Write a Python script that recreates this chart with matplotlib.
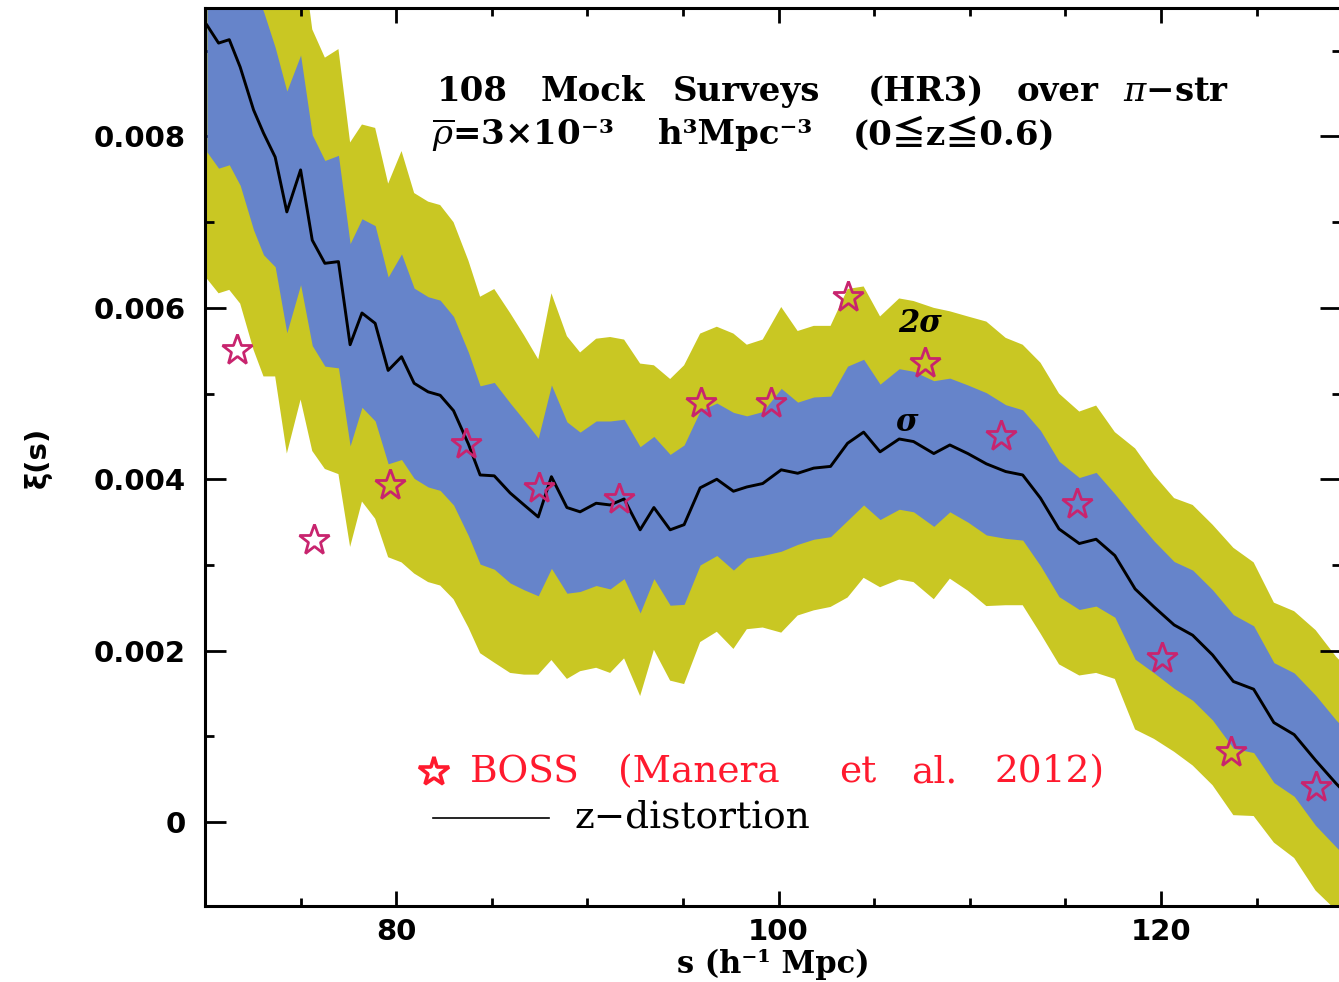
import numpy as np
import matplotlib
matplotlib.use("Agg")
import matplotlib.pyplot as plt
from matplotlib.ticker import MultipleLocator, FuncFormatter

plt.rcParams['mathtext.fontset'] = 'dejavuserif'

# === Mock surveys: mean xi(s) and its scatter (units of 1e-3) ===
s_mock = [70.10, 70.71, 71.27, 71.84, 72.54, 73.06, 73.67, 74.28, 75.00, 75.61,
          76.27, 76.98, 77.59, 78.21, 78.90, 79.58, 80.28, 80.94, 81.67, 82.30,
          83.00, 83.78, 84.39, 85.13, 85.96, 86.69, 87.43, 88.12, 88.93, 89.62,
          90.46, 91.19, 91.92, 92.76, 93.48, 94.33, 95.06, 95.90, 96.77, 97.64,
          98.34, 99.17, 100.14, 101.00, 101.84, 102.72, 103.61, 104.45, 105.31, 106.31,
          107.06, 108.12, 108.96, 109.90, 110.87, 111.88, 112.77, 113.70, 114.67, 115.73,
          116.61, 117.59, 118.65, 119.64, 120.69, 121.66, 122.70, 123.79, 124.85, 125.91,
          126.97, 128.09, 129.16, 130.25]
xi_mock = [9.30, 9.09, 9.13, 8.81, 8.31, 8.04, 7.76, 7.12, 7.61, 6.79,
           6.52, 6.54, 5.57, 5.94, 5.82, 5.27, 5.43, 5.12, 5.02, 4.98,
           4.80, 4.41, 4.05, 4.04, 3.84, 3.70, 3.56, 4.03, 3.67, 3.62,
           3.72, 3.70, 3.77, 3.41, 3.67, 3.41, 3.47, 3.90, 4.00, 3.86,
           3.91, 3.95, 4.11, 4.07, 4.13, 4.15, 4.42, 4.55, 4.32, 4.47,
           4.44, 4.30, 4.40, 4.30, 4.18, 4.09, 4.05, 3.78, 3.42, 3.25,
           3.30, 3.11, 2.72, 2.51, 2.30, 2.18, 1.95, 1.64, 1.55, 1.16,
           1.02, 0.72, 0.45, 0.20]
sig_mock = [1.48, 1.46, 1.46, 1.38, 1.40, 1.42, 1.28, 1.41, 1.34, 1.23,
            1.20, 1.24, 1.18, 1.10, 1.14, 1.09, 1.20, 1.11, 1.11, 1.11,
            1.10, 1.07, 1.04, 1.09, 1.05, 0.99, 0.92, 1.07, 1.00, 0.93,
            0.96, 0.98, 0.93, 0.97, 0.83, 0.88, 0.93, 0.90, 0.89, 0.92,
            0.83, 0.84, 0.95, 0.83, 0.83, 0.82, 0.90, 0.85, 0.79, 0.82,
            0.82, 0.85, 0.78, 0.80, 0.83, 0.78, 0.76, 0.79, 0.79, 0.77,
            0.78, 0.72, 0.82, 0.77, 0.74, 0.76, 0.76, 0.78, 0.74, 0.70,
            0.72, 0.76, 0.74, 0.74]

# === BOSS measurements (Manera et al. 2012), units of 1e-3 ===
s_boss = [71.68, 75.71, 79.69, 83.66, 87.48, 91.66, 95.95, 99.61,
          103.64, 107.67, 111.64, 115.62, 120.06, 123.67, 128.12]
xi_boss = [5.51, 3.29, 3.93, 4.41, 3.90, 3.77, 4.89, 4.89,
           6.13, 5.36, 4.50, 3.71, 1.91, 0.82, 0.41]

s = np.array(s_mock)
xi = np.array(xi_mock) * 1e-3
sig = np.array(sig_mock) * 1e-3

YELLOW = '#c9c723'
BLUE = '#6684ca'
STAR = '#c8246e'
RED = '#ff1a2e'

fig = plt.figure(figsize=(13.39, 9.82), dpi=100)
ax = fig.add_axes([0.1531, 0.0774, 1.0015 - 0.1531, 0.9919 - 0.0774])

ax.fill_between(s, xi - 2 * sig, xi + 2 * sig, color=YELLOW, lw=0, zorder=1)
ax.fill_between(s, xi - sig, xi + sig, color=BLUE, lw=0, zorder=2)
ax.plot(s, xi, color='black', lw=2.1, zorder=3)
ax.plot(s_boss, np.array(xi_boss) * 1e-3, ls='none', marker='*', ms=23,
        mfc='none', mec=STAR, mew=2.0, zorder=4)

ax.set_xlim(70, 129.42)
ax.set_ylim(-0.00098, 0.0095)

# ticks on all four sides, pointing in
ax.xaxis.set_major_locator(MultipleLocator(20))
ax.xaxis.set_minor_locator(MultipleLocator(5))
ax.yaxis.set_major_locator(MultipleLocator(0.002))
ax.yaxis.set_minor_locator(MultipleLocator(0.001))
ax.yaxis.set_major_formatter(FuncFormatter(lambda v, p: '0' if abs(v) < 1e-9 else f'{v:.3f}'))
ax.tick_params(which='both', direction='in', top=True, right=True, width=2)
ax.tick_params(axis='x', which='major', length=11, pad=9)
ax.tick_params(axis='x', which='minor', length=5.5)
ax.tick_params(axis='y', which='major', length=15, pad=14)
ax.tick_params(axis='y', which='minor', length=6.5)
for lab in ax.get_xticklabels() + ax.get_yticklabels():
    lab.set_fontfamily('DejaVu Sans')
    lab.set_fontweight('bold')
    lab.set_fontsize(21)
for sp in ax.spines.values():
    sp.set_linewidth(2.2)

ax.set_xlabel('s (h⁻¹ Mpc)', fontsize=22, fontweight='bold', family='DejaVu Serif', labelpad=2)
ax.set_ylabel('ξ(s)', fontsize=21, fontweight='bold', labelpad=30)

serif = ['DejaVu Serif', 'Noto Sans CJK JP', 'DejaVu Sans']


def place_words(words, y, **kw):
    # words given as (text, left edge in pixels of the figure)
    for txt, px in words:
        ax.text((px - 205) / 1136, y, txt, transform=ax.transAxes,
                family=serif, va='center', ha='left', **kw)


# header
place_words([('108', 437), ('Mock', 541), ('Surveys', 673), ('(HR3)', 868),
             ('over', 1017), (r'$\pi$−str', 1123)],
            0.907, fontsize=24.5, fontweight='bold')
place_words([(r'$\overline{\rho}$=3×10⁻³', 432), ('h³Mpc⁻³', 658), ('(0≦z≦0.6)', 853)],
            0.8586, fontsize=24.5, fontweight='bold')

# band labels
ax.text(107.4, 0.00582, '2σ', fontsize=22, fontweight='bold', style='italic',
        family=serif, ha='center', va='center', zorder=5)
ax.text(106.7, 0.00466, 'σ', fontsize=22, fontweight='bold', style='italic',
        family=serif, ha='center', va='center', zorder=5)

# key
ax.plot([0.2016], [0.1492], transform=ax.transAxes, marker='*', ms=22,
        mfc='none', mec=RED, mew=2.6, ls='none', zorder=5)
place_words([('BOSS', 470), ('(Manera', 618), ('et', 839), ('al.', 911), ('2012)', 994)],
            0.1492, fontsize=27, color=RED)
ax.plot([0.2007, 0.3028], [0.098, 0.098], transform=ax.transAxes, color='black', lw=1.2)
place_words([('z−distortion', 574)], 0.098, fontsize=27, color='black')

fig.savefig('out.png', dpi=100)
